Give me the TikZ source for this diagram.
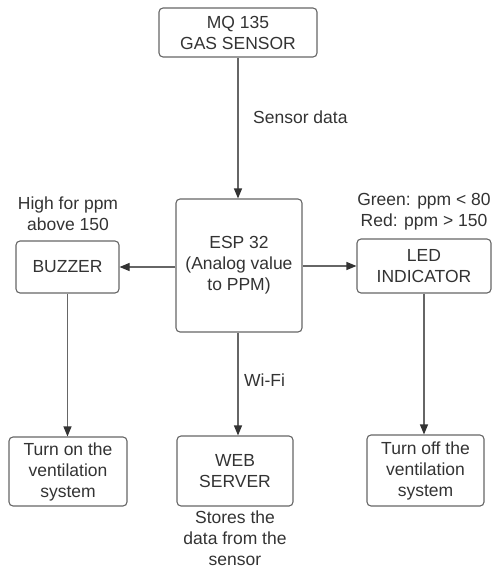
\documentclass[tikz,border=0pt]{standalone}
\usepackage{fontspec}
\setmainfont{Liberation Sans}
\usetikzlibrary{arrows.meta}
\definecolor{linegray}{HTML}{666666}
\definecolor{tipgray}{HTML}{333333}
\definecolor{textgray}{HTML}{333333}
\begin{document}
\begin{tikzpicture}[x=1pt,y=-1pt,
  txt/.style={align=center, text=textgray, inner sep=0pt, font=\fontsize{17.5}{21}\selectfont},
  box/.style={txt, draw=linegray, rounded corners=4pt, line width=1.1pt},
  arr/.style={draw=linegray, line width=1.1pt, -{Triangle[length=10pt,width=8pt,color=tipgray]}}]
\path[use as bounding box] (0,0) rectangle (492,570);
\node[box, minimum width=158pt, minimum height=49pt] (mq) at (238,32.5) {MQ 135\\GAS SENSOR};
\node[box, minimum width=126pt, minimum height=133pt] (esp) at (239,265.5) {ESP 32\\(Analog value\\to PPM)};
\node[box, minimum width=103pt, minimum height=52pt] (buz) at (67.5,267) {BUZZER};
\node[box, minimum width=134pt, minimum height=54pt] (led) at (424,266) {LED\\INDICATOR};
\node[box, minimum width=118pt, minimum height=69pt] (on) at (68,471.5) {Turn on the\\ventilation\\system};
\node[box, minimum width=116pt, minimum height=70pt] (web) at (235,471) {WEB\\SERVER};
\node[box, minimum width=117pt, minimum height=71pt] (off) at (425.5,470.5) {Turn off the\\ventilation\\system};
\node[txt, anchor=west] (sd) at (253,117) {Sensor data};
\node[txt, anchor=west] (wf) at (244,380) {Wi-Fi};
\node[txt] (hi) at (68,214) {High for ppm\\above 150};
\node[txt] (gr) at (424,212) {Green: ppm < 80\\Red: ppm > 150};
\node[txt] (st) at (235,538) {Stores the\\data from the\\sensor};
\draw[arr] (mq.south) -- (mq.south |- esp.north);
\draw[arr] (esp.west |- buz.east) -- (buz.east);
\draw[arr] (esp.east |- led.west) -- (led.west);
\draw[arr] (buz.south) -- (buz.south |- on.north);
\draw[arr] (esp.south -| mq.south) -- (mq.south |- web.north);
\draw[arr] (led.south) -- (led.south |- off.north);
\end{tikzpicture}
\end{document}
